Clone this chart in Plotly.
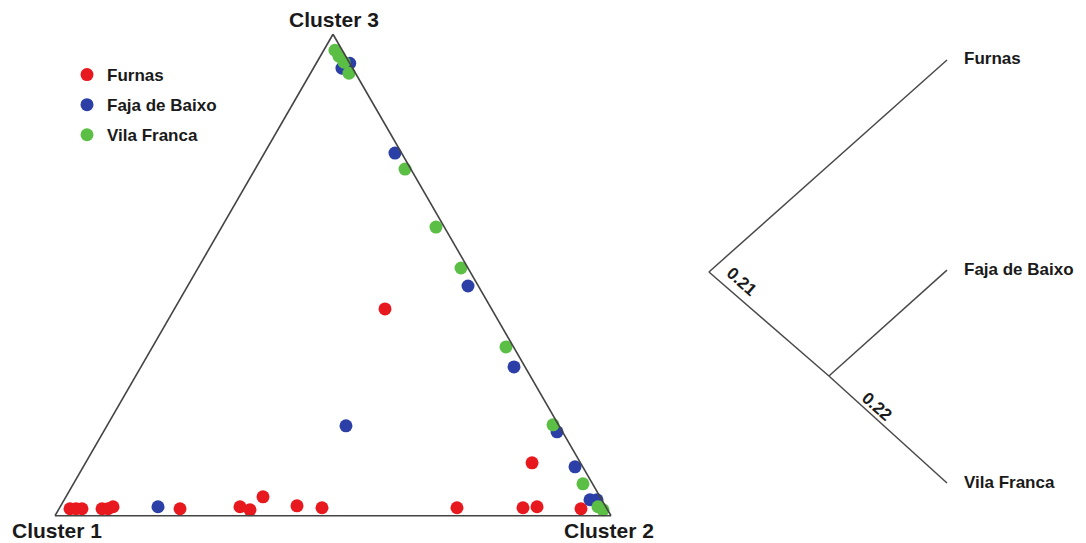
import plotly.graph_objects as go

# Ternary membership proportions (a = Cluster 3, b = Cluster 1, c = Cluster 2)
furnas_a = [0.0145, 0.0145, 0.0145, 0.0145, 0.0145, 0.0187, 0.0145, 0.0187, 0.0124,
            0.0394, 0.0207, 0.0166, 0.0166, 0.0166, 0.0187, 0.0145, 0.1100, 0.4295]
furnas_c = [0.0197, 0.0305, 0.0413, 0.0773, 0.0881, 0.0950, 0.2176, 0.3234, 0.3445,
            0.3544, 0.4249, 0.4719, 0.7147, 0.8334, 0.8576, 0.9388, 0.8030, 0.3788]

faja_a = [0.0187, 0.1867, 0.7531, 0.4772, 0.3091, 0.1743, 0.1017, 0.0332, 0.0332,
          0.9295, 0.9398]
faja_c = [0.1759, 0.4300, 0.2349, 0.5042, 0.6710, 0.8158, 0.8844, 0.9456, 0.9582,
          0.0514, 0.0602]

vila_a = [0.9668, 0.9544, 0.9419, 0.9191, 0.7199, 0.5996, 0.5145, 0.3506, 0.1888,
          0.0664, 0.0187, 0.0124]
vila_c = [0.0201, 0.0336, 0.0489, 0.0692, 0.2696, 0.3854, 0.4730, 0.6358, 0.8013,
          0.9164, 0.9673, 0.9794]

populations = ["Furnas", "Faja de Baixo", "Vila Franca"]
pop_colors = ["#e8191e", "#2b3fa6", "#5cbf45"]

# Tree layout: node coordinates (root, internal, three tips) and edges
node_names = ["root", "inner", "Furnas", "Faja de Baixo", "Vila Franca"]
node_x = [0.0, 0.504, 1.0, 1.0, 1.0]
node_y = [0.0, -0.437, 0.891, 0.008, -0.887]
edges = [(0, 2), (0, 1), (1, 3), (1, 4)]
branch_labels = ["0.21", "0.22"]
branch_label_x = [0.136, 0.704]
branch_label_y = [-0.040, -0.567]
branch_angle = 41.6

fig = go.Figure()

series = [(furnas_a, furnas_c), (faja_a, faja_c), (vila_a, vila_c)]
for name, (a_vals, c_vals), col in zip(populations, series, pop_colors):
    b_vals = [max(0.0, 1 - a - c) for a, c in zip(a_vals, c_vals)]
    fig.add_trace(go.Scatterternary(
        a=a_vals, b=b_vals, c=c_vals, mode="markers", name=name,
        legendgroup=name,
        marker=dict(size=13, color=col),
        cliponaxis=False,
    ))

# Tree branches
for i, j in edges:
    fig.add_trace(go.Scatter(
        x=[node_x[i], node_x[j]], y=[node_y[i], node_y[j]],
        mode="lines", line=dict(color="#4a4a4a", width=1.5),
        xaxis="x", yaxis="y", showlegend=False, hoverinfo="skip",
    ))

annotations = []
# Tip labels
for k in range(2, 5):
    annotations.append(dict(
        x=node_x[k], y=node_y[k], xref="x", yref="y", text=node_names[k],
        showarrow=False, xanchor="left", yanchor="middle", xshift=15, yshift=1,
        font=dict(family="Liberation Sans", size=17, color="#1a1a1a", weight="bold"),
    ))
# Branch length labels
for txt, bx, by in zip(branch_labels, branch_label_x, branch_label_y):
    annotations.append(dict(
        x=bx, y=by, xref="x", yref="y", text="<b>" + txt + "</b>", showarrow=False,
        textangle=branch_angle, xanchor="center", yanchor="middle",
        font=dict(family="Liberation Sans", size=17, color="#1a1a1a"),
    ))
# Corner labels of the triangle
corner_font = dict(family="Liberation Sans", size=21, color="#1a1a1a", weight="bold")
for txt, px, py in [("Cluster 3", 333.5, 19), ("Cluster 1", 57, 530), ("Cluster 2", 609, 530)]:
    annotations.append(dict(
        x=px / 1086, y=1 - py / 543, xref="paper", yref="paper", text=txt,
        showarrow=False, xanchor="center", yanchor="middle", font=corner_font,
    ))

axis_style = dict(showgrid=False, showticklabels=False, ticks="",
                  linecolor="#444444", linewidth=1.6, title=dict(text=""))

fig.update_layout(
    width=1086, height=543,
    margin=dict(l=0, r=0, t=0, b=0),
    paper_bgcolor="white", plot_bgcolor="white",
    ternary=dict(
        domain=dict(x=[55 / 1086, 611 / 1086], y=[27 / 543, 509 / 543]),
        bgcolor="white", sum=1,
        aaxis=axis_style, baxis=axis_style, caxis=axis_style,
    ),
    xaxis=dict(domain=[673 / 1086, 1], range=[-0.151, 1.584], visible=False, fixedrange=True),
    yaxis=dict(domain=[0, 1], range=[-1.139, 1.143], visible=False, fixedrange=True),
    legend=dict(
        x=67 / 1086, y=1 - 57 / 543, xanchor="left", yanchor="top",
        bgcolor="rgba(0,0,0,0)", tracegroupgap=5,
        font=dict(family="Liberation Sans", size=17, color="#1a1a1a", weight="bold"),
    ),
    annotations=annotations,
    showlegend=True,
)

fig.write_html("out.html")
